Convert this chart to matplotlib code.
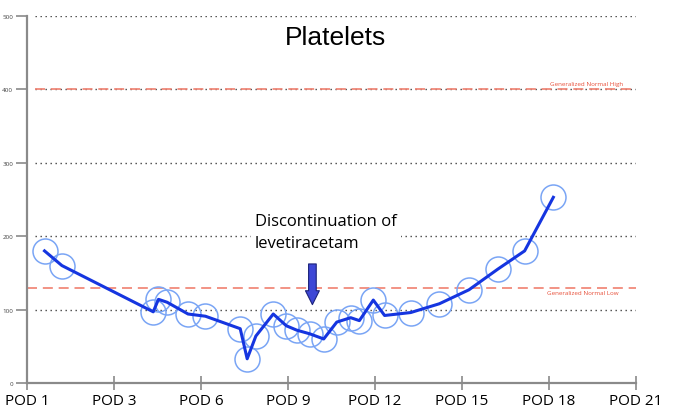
import matplotlib.pyplot as plt
import matplotlib.transforms as mtransforms
import numpy as np

# positions along the POD axis (tick index units) and platelet counts
day_pos = [0.20, 0.40, 1.45, 1.51, 1.61, 1.85, 2.05, 2.45, 2.53, 2.63, 2.83,
           2.98, 3.10, 3.25, 3.41, 3.56, 3.72, 3.82, 3.98, 4.11, 4.41, 4.74,
           5.08, 5.41, 5.72, 6.05]
platelets = [180, 160, 97, 114, 110, 94, 91, 74, 33, 64, 94,
             78, 72, 67, 60, 83, 89, 85, 113, 92, 96, 108,
             127, 155, 180, 253]
tick_labels = ['POD 1', 'POD 3', 'POD 6', 'POD 9', 'POD 12', 'POD 15', 'POD 18', 'POD 21']
normal_high = 400
normal_low = 130
grid_vals = [100, 200, 300, 400, 500]

plt.rcParams['font.family'] = ['Open Sans', 'DejaVu Sans']

fig = plt.figure(figsize=(6.78, 4.10), dpi=100)
ax = fig.add_axes([0.040, 0.0634, 0.898, 0.8951])

# grid
for g in grid_vals:
    ax.plot([0.09, 7], [g, g], linestyle=(0, (1, 2.6)), color='#444444', lw=1.0, zorder=1)

# reference lines
ax.plot([0.09, 7], [normal_high, normal_high], linestyle=(0, (6, 3.5)), color='#f08070', lw=1.2, zorder=2)
ax.plot([0, 7], [normal_low, normal_low], linestyle=(0, (6, 3.5)), color='#f08070', lw=1.2, zorder=2)
ax.text(6.85, normal_high + 4, 'Generalized Normal High', fontsize=4.5, color='#e8503a',
        ha='right', va='bottom')
ax.text(6.8, normal_low - 3, 'Generalized Normal Low', fontsize=4.5, color='#e8503a',
        ha='right', va='top')

# data
ax.plot(day_pos, platelets, color='#1535e0', lw=2.2, zorder=4)
ax.plot(day_pos, platelets, linestyle='none', marker='o', ms=18, mfc='none',
        mec='#7aa5f5', mew=1.1, zorder=3)

# title and annotation
ax.text(3.54, 471, 'Platelets', fontsize=19, ha='center', va='center', zorder=5,
        family='Liberation Sans')
ax.text(2.62, 206, 'Discontinuation of\nlevetiracetam', fontsize=12, ha='left', va='center',
        linespacing=1.45, zorder=5,
        bbox=dict(facecolor='white', edgecolor='none', pad=3))
ax.annotate('', xy=(3.28, 103), xytext=(3.28, 166),
            arrowprops=dict(arrowstyle='simple,head_length=1.0,head_width=1.0,tail_width=0.55',
                            fc='#3d47d6', ec='#1c237a', lw=0.8), zorder=6)

ax.set_xlim(0, 7)
ax.set_ylim(0, 500)
ax.set_xticks(np.arange(len(tick_labels)))
ax.set_xticklabels(tick_labels, fontsize=11)
# first label sits a little right of the axis corner
shift = mtransforms.ScaledTranslation(0.08, 0, fig.dpi_scale_trans)
first = ax.get_xticklabels()[0]
first.set_transform(first.get_transform() + shift)
ax.set_yticks([0, 100, 200, 300, 400, 500])
ax.set_yticklabels(['0', '100', '200', '300', '400', '500'], fontsize=4.5, color='#444444')

for s in ['top', 'right']:
    ax.spines[s].set_visible(False)
for s in ['left', 'bottom']:
    ax.spines[s].set_color('#8a8a8a')
    ax.spines[s].set_linewidth(1.6)
ax.tick_params(axis='x', direction='inout', length=10, width=1.2, color='#8a8a8a', pad=2)
ax.tick_params(axis='y', direction='out', length=8, width=1.2, color='#8a8a8a', pad=2)

fig.savefig('out.png', dpi=100)
